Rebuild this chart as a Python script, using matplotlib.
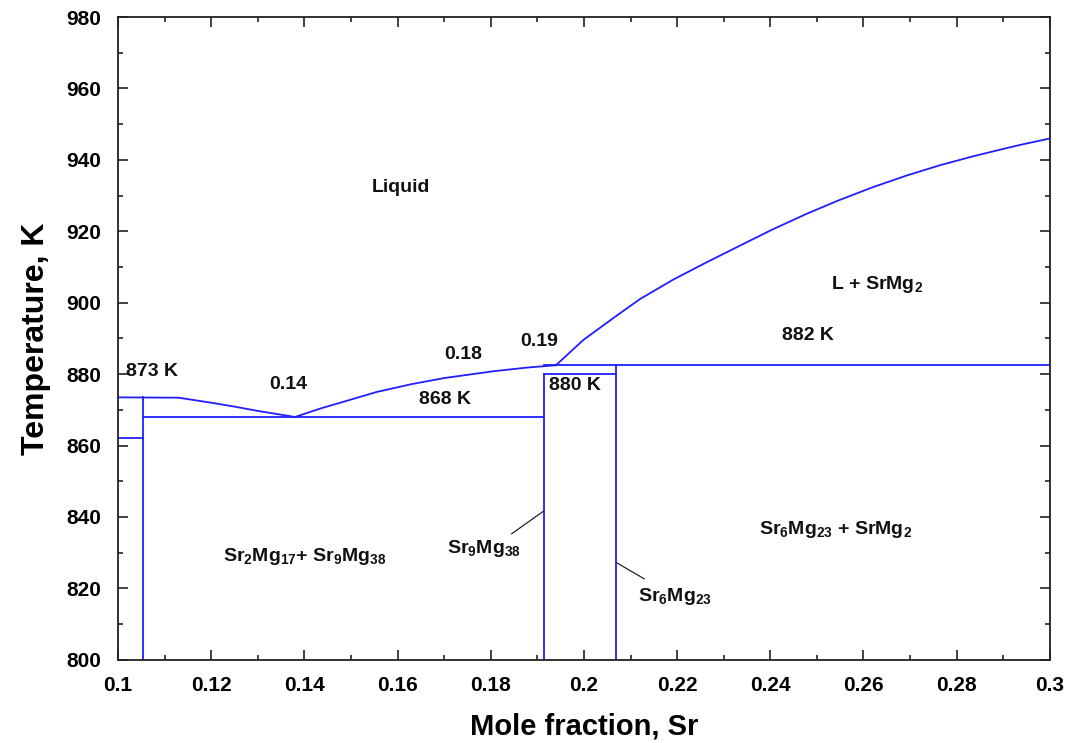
import matplotlib
matplotlib.use('Agg')
import matplotlib.pyplot as plt

plt.rcParams['font.family'] = ['Liberation Sans', 'DejaVu Sans']
plt.rcParams['font.weight'] = 'bold'
plt.rcParams['mathtext.fontset'] = 'custom'
plt.rcParams['mathtext.rm'] = 'Liberation Sans:bold'
plt.rcParams['mathtext.default'] = 'rm'

BLUE = '#1f1fff'

# compositions (mole fraction Sr) of the compounds
x_sr2mg17 = 0.1053
x_sr9mg38 = 0.1915
x_sr6mg23 = 0.2069

# invariant temperatures, K
t_873 = 873.5
t_868 = 868.0
t_880 = 880.0
t_882 = 882.5
t_low = 862.2

# liquidus, Mg-rich side (down to eutectic at 0.138)
liq1_x = [0.100, 0.113, 0.120, 0.125, 0.130, 0.138]
liq1_t = [873.5, 873.4, 872.0, 870.9, 869.7, 868.0]

# liquidus, eutectic -> peritectic at 0.194
liq2_x = [0.138, 0.1435, 0.1485, 0.1555, 0.163, 0.170, 0.1805, 0.1875, 0.194]
liq2_t = [868.0, 870.4, 872.3, 875.0, 877.2, 878.9, 880.8, 881.8, 882.5]

# liquidus of SrMg2
liq3_x = [0.194, 0.1999, 0.2063, 0.2120, 0.2192, 0.2263, 0.2335, 0.2406, 0.2478,
          0.2549, 0.2621, 0.2692, 0.2764, 0.2835, 0.2907, 0.2943, 0.300]
liq3_t = [882.5, 889.6, 895.7, 901.0, 906.5, 911.3, 916.0, 920.6, 924.9,
          928.8, 932.4, 935.6, 938.5, 941.0, 943.3, 944.4, 946.0]

fig = plt.figure(figsize=(10.68, 7.43), dpi=100)
ax = fig.add_axes([0.1105, 0.112, 0.8725, 0.865])

lw = 1.3
ax.plot(liq1_x, liq1_t, color=BLUE, lw=lw)
ax.plot(liq2_x, liq2_t, color=BLUE, lw=lw)
ax.plot(liq3_x, liq3_t, color=BLUE, lw=lw)

# horizontals
ax.plot([0.1, x_sr2mg17], [t_low, t_low], color=BLUE, lw=lw)
ax.plot([x_sr2mg17, x_sr9mg38], [t_868, t_868], color=BLUE, lw=lw)
ax.plot([x_sr9mg38, x_sr6mg23], [t_880, t_880], color=BLUE, lw=lw)
ax.plot([x_sr9mg38, 0.3], [t_882, t_882], color=BLUE, lw=lw)

# verticals (compounds)
ax.plot([x_sr2mg17, x_sr2mg17], [800, t_873], color=BLUE, lw=lw)
ax.plot([x_sr9mg38, x_sr9mg38], [800, t_880], color=BLUE, lw=lw)
ax.plot([x_sr6mg23, x_sr6mg23], [800, t_882], color=BLUE, lw=lw)

# leader lines
ax.plot([0.1913, 0.1845], [841.6, 835.3], color='#222222', lw=0.9)
ax.plot([0.2070, 0.2129], [827.2, 822.7], color='#222222', lw=0.9)

fs = 14
txt = dict(fontsize=fs, fontweight='bold', ha='center', va='center', color='#111111')
ax.text(0.1607, 932.4, 'Liquid', **txt)
ax.text(0.2629, 905.0, r'L + SrMg$_2$', **txt)
ax.text(0.2481, 890.8, '882 K', **txt)
ax.text(0.1073, 880.7, '873 K', **txt)
ax.text(0.1365, 877.1, '0.14', **txt)
ax.text(0.1740, 885.5, '0.18', **txt)
ax.text(0.1903, 889.1, '0.19', **txt)
ax.text(0.1702, 872.9, '868 K', **txt)
ax.text(0.1981, 876.8, '880 K', **txt)
ax.text(0.1401, 829.0, r'Sr$_2$Mg$_{17}$+ Sr$_9$Mg$_{38}$', **txt)
ax.text(0.1785, 831.2, r'Sr$_9$Mg$_{38}$', **txt)
ax.text(0.2195, 817.8, r'Sr$_6$Mg$_{23}$', **txt)
ax.text(0.2541, 836.5, r'Sr$_6$Mg$_{23}$ + SrMg$_2$', **txt)

ax.set_xlim(0.1, 0.3)
ax.set_ylim(800, 980)
ax.set_xticks([0.1, 0.12, 0.14, 0.16, 0.18, 0.2, 0.22, 0.24, 0.26, 0.28, 0.3])
ax.set_xticklabels(['0.1', '0.12', '0.14', '0.16', '0.18', '0.2', '0.22', '0.24', '0.26', '0.28', '0.3'])
ax.set_xticks([0.11 + 0.02 * i for i in range(10)], minor=True)
ax.set_yticks(range(800, 981, 20))
ax.set_yticks(range(810, 980, 20), minor=True)

ax.tick_params(which='both', direction='in', top=True, right=True, width=1.2, color='#222222')
ax.tick_params(which='major', length=7, labelsize=15)
ax.tick_params(which='minor', length=3.5)
ax.tick_params(axis='x', pad=12)
ax.tick_params(axis='y', pad=12)
for lab in ax.get_xticklabels() + ax.get_yticklabels():
    lab.set_fontweight('bold')
for s in ax.spines.values():
    s.set_linewidth(1.3)
    s.set_color('#222222')

ax.set_xlabel('Mole fraction, Sr', fontsize=21, fontweight='bold', labelpad=12)
ax.set_ylabel('Temperature, K', fontsize=23, fontweight='bold', labelpad=11)

fig.savefig('out.png', dpi=100)
